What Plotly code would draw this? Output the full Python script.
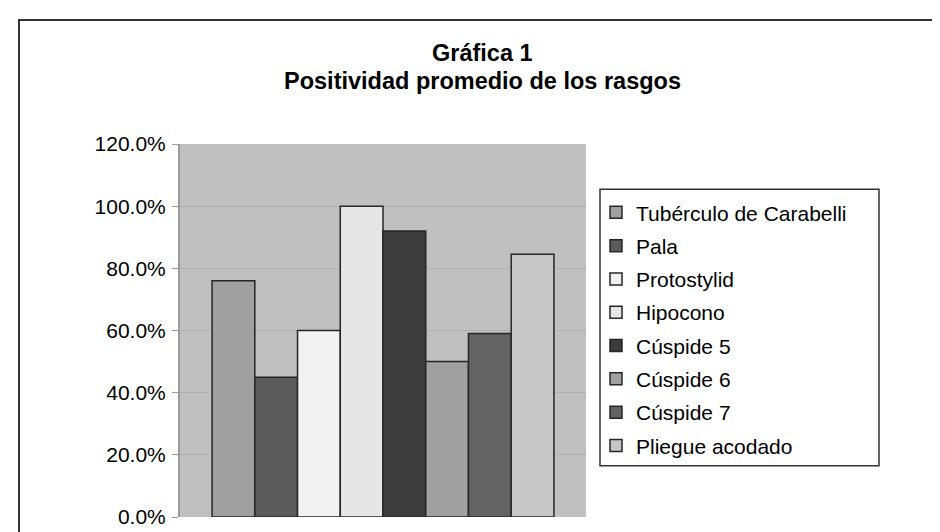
import plotly.graph_objects as go

categories = ["Tubérculo de Carabelli", "Pala", "Protostylid", "Hipocono",
              "Cúspide 5", "Cúspide 6", "Cúspide 7", "Pliegue acodado"]
values = [0.76, 0.45, 0.60, 1.00, 0.92, 0.50, 0.59, 0.845]
colors = ["#a0a0a0", "#5a5a5a", "#f2f2f2", "#e6e6e6",
          "#3c3c3c", "#a0a0a0", "#636363", "#c8c8c8"]
tick_vals = [0, 0.2, 0.4, 0.6, 0.8, 1.0, 1.2]
tick_text = ["0.0%", "20.0%", "40.0%", "60.0%", "80.0%", "100.0%", "120.0%"]
title_lines = ["Gráfica 1", "Positividad promedio de los rasgos"]

FONT = "Liberation Sans, Arial, sans-serif"
W, H = 940, 532
L, R, T, B = 172, 362, 136, 17
PW, PH = W - L - R, H - T - B

def px_x(x):
    return (x - L) / PW

def px_y(y):
    return (H - B - y) / PH

fig = go.Figure()
for i, (name, v, c) in enumerate(zip(categories, values, colors)):
    fig.add_trace(go.Bar(
        x=[""], y=[v], name=name, legendgroup=str(i),
        marker=dict(color=c, line=dict(color="#262626", width=1.5)),
    ))

for txt, yy in zip(title_lines, [44, 72]):
    fig.add_annotation(text="<b>%s</b>" % txt, xref="paper", yref="paper",
                       x=px_x(474), y=px_y(yy), xanchor="center", yanchor="middle",
                       showarrow=False, font=dict(family=FONT, size=23.5, color="#000"))

# outer chart border
fig.add_shape(type="rect", xref="paper", yref="paper",
              x0=px_x(11), x1=px_x(934), y0=px_y(560), y1=px_y(10),
              line=dict(color="#333333", width=2), fillcolor="rgba(0,0,0,0)", layer="below")
# legend box
fig.add_shape(type="rect", xref="paper", yref="paper",
              x0=px_x(592), x1=px_x(871), y0=px_y(463), y1=px_y(182),
              line=dict(color="#333333", width=1.5), fillcolor="white", layer="below")

fig.update_layout(
    width=W, height=H,
    margin=dict(l=L, r=R, t=T, b=B, pad=0),
    paper_bgcolor="white", plot_bgcolor="#c0c0c0",
    barmode="group", bargap=0.158, bargroupgap=0,
    font=dict(family=FONT, size=21, color="#000"),
    showlegend=True,
    legend=dict(x=px_x(588), y=px_y(185), xanchor="left", yanchor="top",
                bgcolor="rgba(0,0,0,0)", borderwidth=0,
                font=dict(family=FONT, size=21, color="#000"),
                tracegroupgap=3, traceorder="grouped"),
    xaxis=dict(showticklabels=False, showgrid=False, zeroline=False,
               showline=False, ticks=""),
    yaxis=dict(range=[0, 1.2], tickvals=tick_vals, ticktext=tick_text,
               showgrid=True, gridcolor="#b0b0b0", gridwidth=1,
               zeroline=False, showline=True, linecolor="#9a9a9a", linewidth=2,
               ticks="outside", ticklen=6, tickcolor="#9a9a9a",
               ticklabelstandoff=2,
               tickfont=dict(family=FONT, size=21, color="#000")),
)

fig.write_html("out.html")
